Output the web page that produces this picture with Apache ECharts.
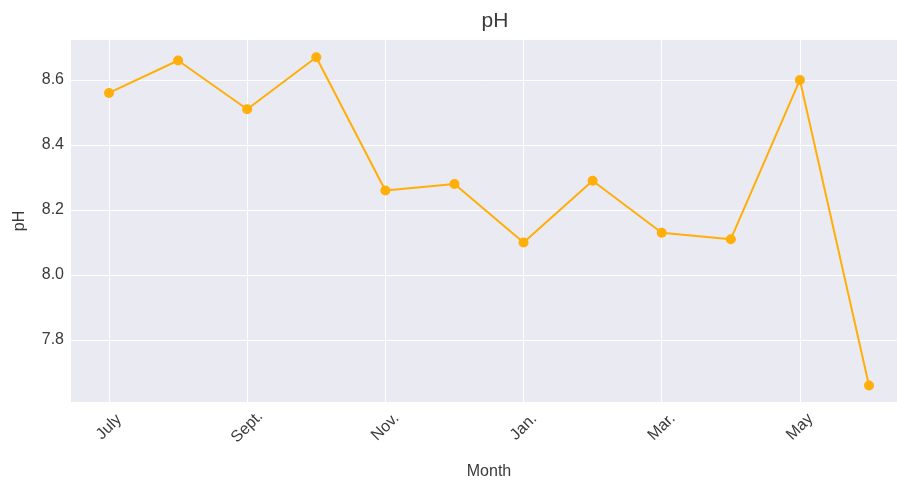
<!DOCTYPE html>
<html>
<head>
<meta charset="utf-8">
<script src="https://cdn.jsdelivr.net/npm/echarts@6/dist/echarts.min.js"></script>
<style>html,body{margin:0;padding:0;background:#fff}#c{width:897px;height:487px}</style>
</head>
<body>
<div id="c"></div>
<script>
const months = ["July","Aug.","Sept.","Oct.","Nov.","Dec.","Jan.","Feb.","Mar.","Apr.","May","June"];
const phValues = [8.56, 8.66, 8.51, 8.67, 8.26, 8.28, 8.10, 8.29, 8.13, 8.11, 8.60, 7.66];
const xTickIdx = [0, 2, 4, 6, 8, 10];
const yTicks = [7.8, 8.0, 8.2, 8.4, 8.6];

const textColor = '#3a3a3a';
const font = 'Liberation Sans, Arial, sans-serif';
const chart = echarts.init(document.getElementById('c'), null, {renderer: 'canvas'});
chart.setOption({
  animation: false,
  backgroundColor: '#ffffff',
  title: {
    text: 'pH', left: 490, top: 6,
    textAlign: 'center',
    textStyle: {fontFamily: font, fontSize: 21, fontWeight: 'normal', color: textColor}
  },
  grid: {left: 71, top: 40, right: -10, bottom: 85, show: true, backgroundColor: '#EAEAF2', borderWidth: 0,
         outerBoundsMode: 'none', containLabel: false},
  xAxis: {
    type: 'value', min: -0.55, max: 11.55,
    name: 'Month', nameLocation: 'middle', nameGap: 62,
    nameTextStyle: {fontFamily: font, fontSize: 16, color: textColor},
    axisLine: {show: false},
    axisTick: {show: false, customValues: xTickIdx},
    axisLabel: {
      customValues: xTickIdx,
      formatter: v => months[Math.round(v)],
      rotate: 45, align: 'center', verticalAlign: 'middle', margin: 25,
      fontFamily: font, fontSize: 16, color: textColor
    },
    splitLine: {show: true, lineStyle: {color: '#ffffff', width: 1}}
  },
  yAxis: {
    type: 'value', min: 7.609, max: 8.723,
    name: 'pH', nameLocation: 'middle', nameGap: 43,
    nameTextStyle: {fontFamily: font, fontSize: 16, color: textColor},
    axisLine: {show: false},
    axisTick: {show: false, customValues: yTicks},
    axisLabel: {
      customValues: yTicks,
      formatter: v => v.toFixed(1),
      margin: 7, fontFamily: font, fontSize: 16, color: textColor
    },
    splitLine: {show: true, lineStyle: {color: '#ffffff', width: 1}}
  },
  series: [{
    type: 'line',
    data: phValues.map((v, i) => [i, v]),
    symbol: 'circle', symbolSize: 10,
    lineStyle: {color: '#FFAE0A', width: 2},
    itemStyle: {color: '#FFAE0A'}
  }]
});
</script>
</body>
</html>
